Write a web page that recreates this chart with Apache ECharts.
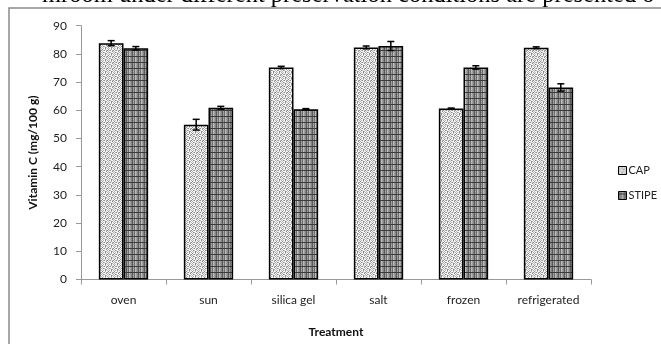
<!DOCTYPE html>
<html>
<head>
<meta charset="utf-8">
<script src="https://cdn.jsdelivr.net/npm/echarts@6/dist/echarts.min.js"></script>
<style>
  html, body { margin: 0; padding: 0; background: #fff; }
  #chart { width: 661px; height: 344px; }
</style>
</head>
<body>
<div id="chart"></div>
<script>
// Vitamin C content of cap and stipe for each preservation treatment
const categories = ['oven', 'sun', 'silica gel', 'salt', 'frozen', 'refrigerated'];
const capValues = [83.8, 54.9, 75.2, 82.3, 60.6, 82.2];
const stipeValues = [82.0, 60.9, 60.4, 82.8, 75.2, 68.1];
const capErrors = [0.9, 1.9, 0.4, 0.5, 0.2, 0.3];
const stipeErrors = [0.6, 0.5, 0.2, 1.6, 0.6, 1.3];
const yTicks = { min: 0, max: 90, interval: 10 };

const CATEGORY_GAP = 0.42;

// Fill textures for the two series
function makePattern(rows, palette) {
  const h = rows.length, w = rows[0].length;
  const c = document.createElement('canvas');
  c.width = w; c.height = h;
  const ctx = c.getContext('2d');
  for (let y = 0; y < h; y++) {
    for (let x = 0; x < w; x++) {
      ctx.fillStyle = palette[rows[y][x]];
      ctx.fillRect(x, y, 1, 1);
    }
  }
  return c;
}

const capTile = makePattern([
  'WGWDWG',
  'DWWGWW',
  'WGDWGD',
  'GWWWDW',
  'WDGWWG',
  'GWWDGW'
], { W: '#f4f4f4', G: '#b6b6b6', D: '#8a8a8a' });

const stipeTile = makePattern([
  'aBcDbE',
  'AbCdBe',
  'kkkkkk',
  'AbCdBe',
  'aBcDbE',
  'AbCdBe'
], {
  a: '#555555', A: '#5e5e5e', b: '#a8a8a8', B: '#969696',
  c: '#727272', C: '#686868', d: '#c6c6c6', D: '#b0b0b0',
  e: '#888888', E: '#7e7e7e', k: '#3a3a3a'
});

const capFill = { image: capTile, repeat: 'repeat' };
const stipeFill = { image: stipeTile, repeat: 'repeat' };

// Error bars drawn over the matching bar in each category
function errorBarRenderer(side) {
  return function (params, api) {
    const idx = api.value(0);
    const val = api.value(1);
    const err = api.value(2);
    const band = api.size([1, 0])[0];
    const barW = band * (1 - CATEGORY_GAP) / 2;
    const offset = side * barW / 2;
    const hi = api.coord([idx, val + err]);
    const lo = api.coord([idx, val - err]);
    const x = hi[0] + offset;
    const cap = 3.5;
    const style = { stroke: '#000', lineWidth: 1.5 };
    return {
      type: 'group',
      children: [
        { type: 'line', shape: { x1: x, y1: hi[1], x2: x, y2: lo[1] }, style },
        { type: 'line', shape: { x1: x - cap, y1: hi[1], x2: x + cap, y2: hi[1] }, style },
        { type: 'line', shape: { x1: x - cap, y1: lo[1], x2: x + cap, y2: lo[1] }, style }
      ]
    };
  };
}

const chart = echarts.init(document.getElementById('chart'), null, { renderer: 'canvas' });

const labelFont = { fontFamily: 'Lato', fontSize: 12, color: '#222' };

chart.setOption({
  animation: false,
  backgroundColor: '#fff',
  graphic: [
    {
      type: 'text',
      x: 42,
      y: 8,
      style: {
        text: 'mroom under different preservation conditions are presented o',
        font: '24.5px "Liberation Serif"',
        verticalAlign: 'bottom',
        fill: '#000'
      }
    },
    {
      type: 'rect',
      shape: { x: 9, y: 8, width: 720, height: 400 },
      style: { fill: 'none', stroke: '#8a8a8a', lineWidth: 1.5 }
    }
  ],
  grid: { left: 81, right: 70, top: 25.7, bottom: 64.5 },
  legend: {
    orient: 'vertical',
    left: 613,
    top: 160,
    itemWidth: 8,
    itemHeight: 8,
    itemGap: 14,
    icon: 'rect',
    textStyle: { fontFamily: 'Lato', fontSize: 11, color: '#222', padding: [0, 0, 0, -3] },
    data: [
      { name: 'CAP', itemStyle: { borderColor: '#000', borderWidth: 1 } },
      { name: 'STIPE', itemStyle: { borderColor: '#000', borderWidth: 1 } }
    ]
  },
  xAxis: {
    type: 'category',
    data: categories,
    name: 'Treatment',
    nameLocation: 'middle',
    nameGap: 47,
    nameTextStyle: { fontFamily: 'Lato', fontSize: 12, fontWeight: 'bold', color: '#111' },
    axisLine: { lineStyle: { color: '#999', width: 1 } },
    axisTick: { show: true, length: 5, lineStyle: { color: '#999' } },
    axisLabel: Object.assign({ margin: 15 }, labelFont)
  },
  yAxis: {
    type: 'value',
    min: yTicks.min,
    max: yTicks.max,
    interval: yTicks.interval,
    name: 'Vitamin C (mg/100 g)',
    nameLocation: 'middle',
    nameGap: 42,
    nameTextStyle: { fontFamily: 'Lato', fontSize: 12, fontWeight: 'bold', color: '#111' },
    axisLine: { show: true, lineStyle: { color: '#999', width: 1 } },
    axisTick: { show: true, length: 5, lineStyle: { color: '#999' } },
    splitLine: { show: false },
    axisLabel: Object.assign({ margin: 14 }, labelFont)
  },
  series: [
    {
      name: 'CAP',
      type: 'bar',
      data: capValues,
      barGap: '0%',
      barCategoryGap: (CATEGORY_GAP * 100) + '%',
      itemStyle: { color: capFill, borderColor: '#000', borderWidth: 1.5 }
    },
    {
      name: 'STIPE',
      type: 'bar',
      data: stipeValues,
      barGap: '0%',
      barCategoryGap: (CATEGORY_GAP * 100) + '%',
      itemStyle: { color: stipeFill, borderColor: '#000', borderWidth: 1.5 }
    },
    {
      type: 'custom',
      name: 'CAP error',
      renderItem: errorBarRenderer(-1),
      data: capValues.map((v, i) => [i, v, capErrors[i]]),
      encode: { x: 0, y: 1 },
      z: 5,
      silent: true
    },
    {
      type: 'custom',
      name: 'STIPE error',
      renderItem: errorBarRenderer(1),
      data: stipeValues.map((v, i) => [i, v, stipeErrors[i]]),
      encode: { x: 0, y: 1 },
      z: 5,
      silent: true
    }
  ]
});
</script>
</body>
</html>
